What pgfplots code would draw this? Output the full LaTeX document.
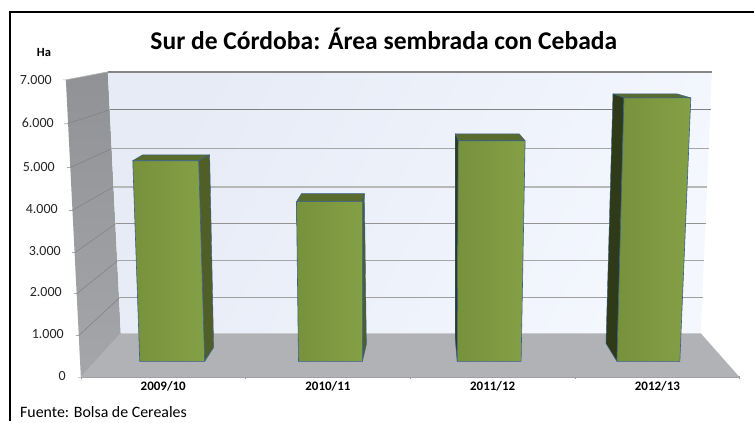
\documentclass[border=0pt]{standalone}
\usepackage{pgfplots}
\pgfplotsset{compat=1.18}
\usepackage{fontspec}
\setmainfont{Carlito}
\definecolor{wallT}{HTML}{909296}
\definecolor{wallB}{HTML}{A4A6AA}
\definecolor{backL}{HTML}{E6EBF6}
\definecolor{backR}{HTML}{F4F7FE}
\definecolor{floorc}{HTML}{B0B2B5}
\definecolor{faceL}{HTML}{78913C}
\definecolor{faceR}{HTML}{84A045}
\definecolor{topc}{HTML}{5A6B2E}
\definecolor{sidec}{HTML}{4F5F27}
\definecolor{darkc}{HTML}{2F3A18}
\definecolor{edgec}{HTML}{37608F}
\definecolor{walll}{HTML}{7E8084}
\newcommand{\yl}[3]{\smash{\raisebox{\dimexpr-3.4pt-#3\relax}{#1}}\hspace*{#2}}
\begin{document}
\begin{tikzpicture}[x=1pt,y=1pt]
\fill[white] (-81,-44) rectangle (674,378);
\draw[black,line width=2.6pt] (-71,-44) -- (-71,366) -- (674,366);
\node[font=\bfseries\fontsize{25.6}{27}\selectfont,inner sep=0pt] at (303.5,339.5) {Sur de Córdoba: Área sembrada con Cebada};
\node[font=\bfseries\fontsize{12.5}{13}\selectfont,inner sep=0pt] at (-37,325) {Ha};
\node[font=\fontsize{15.9}{17}\selectfont,inner sep=0pt,anchor=west] at (-61,-35) {Fuente: Bolsa de Cereales};
\begin{axis}[
  at={(0pt,0pt)},anchor=south west,scale only axis,width=660pt,height=298pt,
  xmin=81,xmax=741,ymin=0,ymax=7000,clip=false,
  axis y line=none,axis x line=bottom,
  axis line style={draw=floorc!85!black,line width=1.4pt,-},
  xtick={163.5,328.5,493.5,658.5},
  xticklabels={2009/10,2010/11,2011/12,2012/13},
  minor xtick={81,246,411,576,741},
  x tick style={draw=none},
  minor x tick style={draw=floorc!85!black,line width=0.7pt},
  minor tick length=3pt,major tick length=0pt,
  xticklabel style={font=\bfseries\fontsize{13}{14}\selectfont,yshift=-1pt},
]
% side wall
\addplot[draw=none,top color=wallT,bottom color=wallB] coordinates {(66,7000)(108,7188)(121,1034)(81,0)} -- cycle;
% back wall
\addplot[draw=none,shading=axis,left color=backL,right color=backR,shading angle=60] coordinates {(108,7188)(713,7188)(702,1034)(121,1034)} -- cycle;
% floor
\addplot[draw=none,fill=floorc] coordinates {(121,1034)(702,1034)(741,0)(81,0)} -- cycle;
% back grid lines
\addplot[draw=gray!95,line width=1.4pt] coordinates {(108,7188)(713,7188)};
\addplot[draw=gray,line width=0.7pt] coordinates {(110,6295)(712,6295)};
\addplot[draw=gray!70,line width=0.8pt] coordinates {(112,5379)(710,5379)};
\addplot[draw=black!28,line width=2pt] coordinates {(114,4487)(708,4487)};
\addplot[draw=gray!85,line width=1.2pt] coordinates {(116,3617)(707,3617)};
\addplot[draw=gray!70,line width=0.9pt] coordinates {(118,2748)(705,2748)};
\addplot[draw=gray!75,line width=1.1pt] coordinates {(120,1879)(704,1879)};
% side wall lines
\addplot[draw=gray!60,line width=0.7pt] coordinates {(63,7000)(66,7000)(108,7188)};
\addplot[draw=walll,line width=0.5pt] coordinates {(64,5966)(67,5966)(110,6295)};
\addplot[draw=walll,line width=0.5pt] coordinates {(67,4933)(70,4933)(112,5379)};
\addplot[draw=walll,line width=0.5pt] coordinates {(69,3923)(72,3923)(114,4487)};
\addplot[draw=walll,line width=0.5pt] coordinates {(72,2936)(75,2936)(116,3617)};
\addplot[draw=walll,line width=0.5pt] coordinates {(74,1973)(77,1973)(118,2748)};
\addplot[draw=walll,line width=0.5pt] coordinates {(76,987)(79,987)(120,1879)};
\addplot[draw=gray!60,line width=0.7pt] coordinates {(78,0)(81,0)(121,1034)};
\end{axis}
% value labels on the slanted axis
\begin{axis}[
  at={(0pt,0pt)},anchor=south west,scale only axis,width=660pt,height=298pt,
  xmin=81,xmax=741,ymin=0,ymax=7000,
  axis x line=none,axis y line=left,axis line style={draw=none},
  ytick={0,1000,2000,3000,4000,5000,6000,7000},
  yticklabels={\yl{0}{15pt}{0pt},\yl{1.000}{17pt}{0.5pt},\yl{2.000}{19pt}{1pt},\yl{3.000}{20pt}{2.7pt},\yl{4.000}{23pt}{3pt},\yl{5.000}{26pt}{3pt},\yl{6.000}{27pt}{1.4pt},\yl{7.000}{29pt}{1pt}},
  major tick length=0pt,
  yticklabel style={font=\fontsize{14}{15}\selectfont,inner sep=0pt,text=black!85},
]
\addplot[draw=none] coordinates {(81,0)};
\end{axis}
% bars: y is hectares at the plane of the bars
\begin{axis}[
  at={(0pt,0pt)},anchor=south west,scale only axis,width=660pt,height=298pt,
  xmin=81,xmax=741,ymin=-394,ymax=6946,hide axis,clip=false,
]
\pgfplotsset{every axis plot/.append style={line join=round}}
% 2009/10
\addplot[fill=topc,draw=edgec,line width=0.5pt] coordinates {(133,4951)(143,5098)(210,5098)(199,4951)} -- cycle;
\addplot[fill=sidec,draw=edgec,line width=0.4pt] coordinates {(199,4951)(210,5098)(214,345)(205,0)} -- cycle;
\addplot[draw=edgec,line width=0.6pt,left color=faceL,right color=faceR] coordinates {(133,4951)(199,4951)(205,0)(140,0)} -- cycle;
% 2010/11
\addplot[fill=topc,draw=edgec,line width=0.5pt] coordinates {(297,3941)(302,4138)(365,4138)(363,3941)} -- cycle;
\addplot[fill=sidec,draw=edgec,line width=0.4pt] coordinates {(363,3941)(365,4138)(367,419)(363,0)} -- cycle;
\addplot[draw=edgec,line width=0.6pt,left color=faceL,right color=faceR] coordinates {(297,3941)(363,3941)(363,0)(299,0)} -- cycle;
% 2011/12
\addplot[fill=topc,draw=edgec,line width=0.5pt] coordinates {(459,5443)(456,5616)(520,5616)(526,5443)} -- cycle;
\addplot[fill=darkc,draw=edgec,line width=0.4pt] coordinates {(456,5616)(459,5443)(458,0)(456,542)} -- cycle;
\addplot[draw=edgec,line width=0.6pt,left color=faceL,right color=faceR] coordinates {(459,5443)(526,5443)(522,0)(458,0)} -- cycle;
% 2012/13
\addplot[fill=topc,draw=edgec,line width=0.5pt] coordinates {(625,6502)(614,6601)(678,6601)(692,6502)} -- cycle;
\addplot[fill=darkc,draw=edgec,line width=0.4pt] coordinates {(614,6601)(625,6502)(618,0)(607,443)} -- cycle;
\addplot[draw=edgec,line width=0.6pt,left color=faceL,right color=faceR] coordinates {(625,6502)(692,6502)(681,0)(618,0)} -- cycle;
\end{axis}
\end{tikzpicture}
\end{document}
